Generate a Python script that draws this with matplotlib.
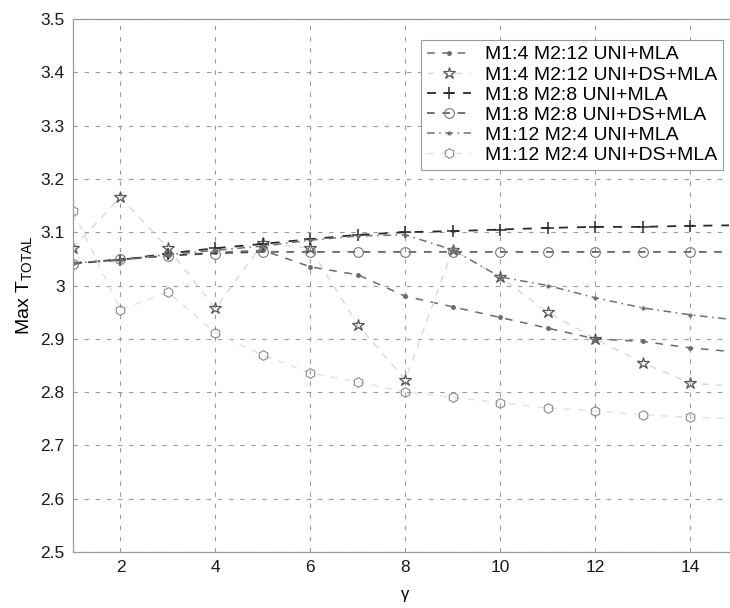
import matplotlib
matplotlib.use("Agg")
import matplotlib.pyplot as plt

plt.rcParams['font.family'] = ['Liberation Sans', 'DejaVu Sans']
plt.rcParams['mathtext.fontset'] = 'custom'
plt.rcParams['mathtext.rm'] = 'Liberation Sans'

gamma = [1, 2, 3, 4, 5, 6, 7, 8, 9, 10, 11, 12, 13, 14, 15]

m4_12_uni = [3.042, 3.048, 3.056, 3.062, 3.066, 3.035, 3.020, 2.980, 2.960,
             2.940, 2.920, 2.900, 2.895, 2.883, 2.875]
m4_12_ds = [3.070, 3.166, 3.070, 2.957, 3.079, 3.070, 2.926, 2.823, 3.067,
            3.016, 2.950, 2.900, 2.855, 2.817, 2.810]
m8_8_uni = [3.042, 3.048, 3.060, 3.070, 3.078, 3.087, 3.095, 3.100, 3.102,
            3.105, 3.108, 3.110, 3.110, 3.112, 3.113]
m8_8_ds = [3.040, 3.050, 3.056, 3.060, 3.063, 3.063, 3.063, 3.063, 3.063,
           3.063, 3.063, 3.063, 3.063, 3.063, 3.063]
m12_4_uni = [3.042, 3.048, 3.058, 3.066, 3.074, 3.085, 3.093, 3.095, 3.067,
             3.016, 3.000, 2.977, 2.958, 2.945, 2.935]
m12_4_ds = [3.140, 2.954, 2.988, 2.911, 2.869, 2.836, 2.819, 2.800, 2.790,
            2.780, 2.770, 2.765, 2.757, 2.753, 2.750]

labels = ["M1:4 M2:12 UNI+MLA", "M1:4 M2:12 UNI+DS+MLA", "M1:8 M2:8 UNI+MLA",
          "M1:8 M2:8 UNI+DS+MLA", "M1:12 M2:4 UNI+MLA", "M1:12 M2:4 UNI+DS+MLA"]
yticks = [2.5, 2.6, 2.7, 2.8, 2.9, 3.0, 3.1, 3.2, 3.3, 3.4, 3.5]
ytick_labels = ["2.5", "2.6", "2.7", "2.8", "2.9", "3", "3.1", "3.2", "3.3", "3.4", "3.5"]
xticks = [2, 4, 6, 8, 10, 12, 14]

fig = plt.figure(figsize=(7.30, 6.08), dpi=100)
ax = fig.add_axes([73/730, 56/608, (729-73)/730, (552-19)/608])

dash = (0, (5, 5))
ax.plot(gamma, m4_12_uni, linestyle=dash, color='#6a6a6a', lw=1.1,
        marker='.', markersize=5, label=labels[0])
ax.plot(gamma, m4_12_ds, linestyle=dash, color='#d8d8d8', lw=1.0,
        marker='*', markersize=9, markerfacecolor='none',
        markeredgecolor='#555555', markeredgewidth=0.9, label=labels[1])
ax.plot(gamma, m8_8_uni, linestyle=dash, color='#2a2a2a', lw=1.3,
        marker='+', markersize=8, markeredgewidth=1.1, label=labels[2])
ax.plot(gamma, m8_8_ds, linestyle=dash, color='#4a4a4a', lw=1.1,
        marker='o', markersize=7, markerfacecolor='none',
        markeredgecolor='#777777', markeredgewidth=0.8, label=labels[3])
ax.plot(gamma, m12_4_uni, linestyle=(0, (5, 3, 1, 3)), color='#707070', lw=1.1,
        marker='.', markersize=4, label=labels[4])
ax.plot(gamma, m12_4_ds, linestyle=dash, color='#e2e2e2', lw=1.0,
        marker='h', markersize=7, markerfacecolor='none',
        markeredgecolor='#8a8a8a', markeredgewidth=0.8, label=labels[5])

ax.set_xlim(1, 14.82)
ax.set_ylim(2.5, 3.5)
ax.set_xticks(xticks)
ax.set_yticks(yticks)
ax.set_yticklabels(ytick_labels)
ax.tick_params(axis='both', labelsize=12.5, length=0, pad=6, labelcolor='#1a1a1a')
ax.grid(True, linestyle=(0, (4, 6)), color='#9a9a9a', lw=0.8)
ax.set_axisbelow(True)
ax.spines['right'].set_visible(False)
for side in ['left', 'bottom', 'top']:
    ax.spines[side].set_color('#9a9a9a')
    ax.spines[side].set_linewidth(0.9)

ax.set_xlabel('γ', fontsize=12)
ax.xaxis.set_label_coords((405 - 73) / 656, -(595 - 552) / 533)
ax.xaxis.label.set_va('center')
ax.set_ylabel('Max T$_{\\mathrm{TOTAL}}$', fontsize=14, labelpad=4)

leg = ax.legend(loc='upper right', bbox_to_anchor=(723/730, 1 - 40/608),
                bbox_transform=fig.transFigure, fontsize=14,
                frameon=True, fancybox=False, framealpha=1,
                edgecolor='#9a9a9a', borderaxespad=0, labelspacing=0.13,
                handlelength=2.3, handletextpad=0.7, borderpad=0.3)
leg.get_frame().set_linewidth(0.8)

fig.savefig('out.png', dpi=100)
